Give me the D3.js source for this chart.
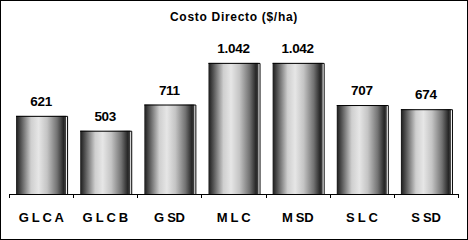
<!DOCTYPE html>
<head>
<meta charset="utf-8">
<title>Costo Directo</title>
<script src="https://cdn.jsdelivr.net/npm/d3@7"></script>
<style>
    body { margin: 0; background: #fff; }
    svg { display: block; font-family: "Liberation Sans", Arial, sans-serif; }
</style>
</head>
<body>
<script>
    // data
    var categories = ["G L C A", "G L C B", "G SD", "M L C", "M SD", "S L C", "S SD"];
    var values = [621, 503, 711, 1042, 1042, 707, 674];
    var labels = ["621", "503", "711", "1.042", "1.042", "707", "674"];

    var W = 468, H = 240;
    var margin = {top: 43, right: 10, bottom: 46, left: 9};

    var svg = d3.select("body").append("svg")
        .attr("width", W)
        .attr("height", H);

    // gradient for the cylinder look
    var defs = svg.append("defs");
    var grad = defs.append("linearGradient")
        .attr("id", "cyl")
        .attr("x1", "0%").attr("x2", "100%")
        .attr("y1", "0%").attr("y2", "0%");
    var stops = [[0, "#1a1a1a"], [0.1, "#555"], [0.3, "#cfcfcf"], [0.45, "#e6e6e6"], [0.62, "#c4c4c4"], [0.82, "#737373"], [0.95, "#262626"], [1, "#444"]];
    stops.forEach(function(s) {
        grad.append("stop").attr("offset", s[0]).attr("stop-color", s[1]);
    });

    // outer frame
    svg.append("rect")
        .attr("x", 0.5).attr("y", 0.5)
        .attr("width", W - 1).attr("height", H - 1)
        .attr("fill", "#fff")
        .attr("stroke", "#000");

    var x = d3.scaleBand()
        .domain(categories)
        .range([margin.left, W - margin.right])
        .paddingInner(0.22)
        .paddingOuter(0.11);

    var y = d3.scaleLinear()
        .domain([0, 1200])
        .range([H - margin.bottom, margin.top]);

    // title
    svg.append("text")
        .attr("x", 234)
        .attr("y", 21)
        .attr("text-anchor", "middle")
        .attr("font-weight", "bold")
        .style("font-size", "12px")
        .style("letter-spacing", "0.7px")
        .text("Costo Directo ($/ha)");

    // bars
    var g = svg.append("g");
    g.selectAll("rect.bar")
        .data(values)
        .enter()
        .append("rect")
        .attr("class", "bar")
        .attr("x", function(d, i) { return x(categories[i]); })
        .attr("y", function(d) { return y(d); })
        .attr("width", x.bandwidth())
        .attr("height", function(d) { return y(0) - y(d); })
        .attr("fill", "url(#cyl)");

    // thin right edge (3d border)
    g.selectAll("path.edge")
        .data(values)
        .enter()
        .append("path")
        .attr("class", "edge")
        .attr("fill", "none")
        .attr("stroke", "#000")
        .attr("stroke-width", 1)
        .attr("d", function(d, i) {
            var x0 = x(categories[i]), x1 = x0 + x.bandwidth() + 1.5;
            return "M" + x0 + "," + (y(d) + 0.5) + "H" + x1 + "V" + y(0);
        });

    // value labels
    g.selectAll("text.val")
        .data(values)
        .enter()
        .append("text")
        .attr("class", "val")
        .attr("x", function(d, i) { return x(categories[i]) + x.bandwidth() / 2; })
        .attr("y", function(d) { return y(d) - 10; })
        .attr("text-anchor", "middle")
        .attr("font-weight", "bold")
        .style("font-size", "13.5px")
        .style("letter-spacing", "-0.3px")
        .text(function(d, i) { return labels[i]; });

    // x axis
    var axis = svg.append("g")
        .attr("transform", "translate(0," + y(0) + ")")
        .call(d3.axisBottom(x).tickSize(0).tickPadding(19));
    axis.select(".domain").attr("stroke", "#000");
    axis.selectAll("text")
        .attr("font-weight", "bold")
        .style("font-size", "13px")
        .style("font-family", "'Liberation Sans', Arial, sans-serif")
        .style("letter-spacing", "-0.3px")
        .attr("fill", "#000");

    // tick marks at band boundaries
    var bounds = categories.map(function(c) { return x(c) - x.step() * x.paddingInner() / 2; });
    bounds.push(W - margin.right);
    axis.selectAll("line.sep")
        .data(bounds)
        .enter()
        .append("line")
        .attr("class", "sep")
        .attr("x1", function(d) { return Math.round(d) + 0.5; })
        .attr("x2", function(d) { return Math.round(d) + 0.5; })
        .attr("y1", 0)
        .attr("y2", 4)
        .attr("stroke", "#000");
</script>
</body>
</html>
